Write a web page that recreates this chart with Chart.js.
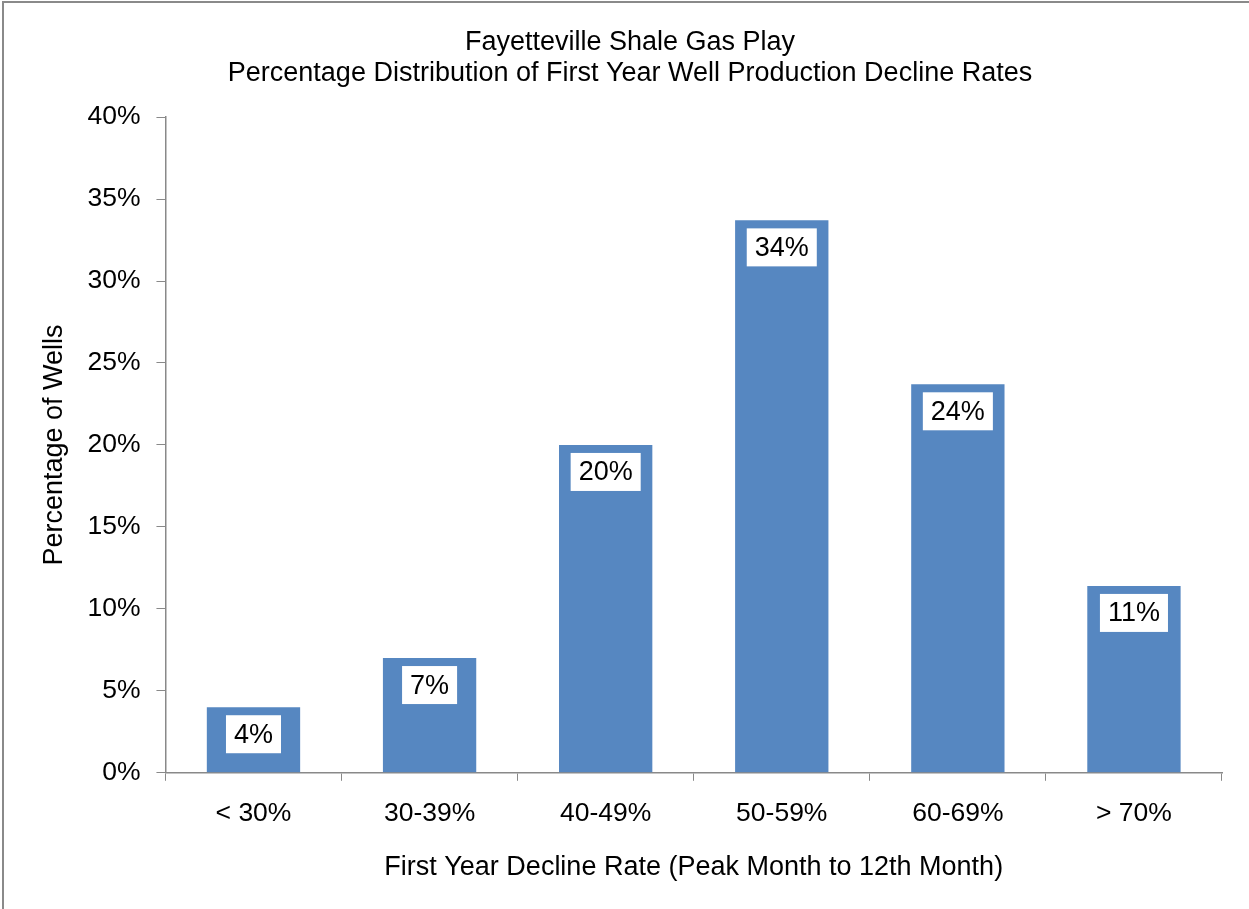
<!DOCTYPE html>
<html>
<head>
<meta charset="utf-8">
<script src="https://cdn.jsdelivr.net/npm/chart.js@4"></script>
<style>
  body { margin: 0; background: #fff; }
  #frame {
    position: absolute; left: 2px; top: 1px;
    width: 1247px; height: 908px;
    border-left: 2px solid #8a8a8a; border-top: 2px solid #8a8a8a;
  }
  #wrap { position: absolute; left: 0; top: 0; width: 1245px; height: 906px; }
</style>
</head>
<body>
<div id="frame"><div id="wrap"><canvas id="chart"></canvas></div></div>
<script>
const categories = ["< 30%", "30-39%", "40-49%", "50-59%", "60-69%", "> 70%"];
const wellShare = [4.0, 7.0, 20.0, 33.7, 23.7, 11.4];
const titleLines = [
    "Fayetteville Shale Gas Play",
    "Percentage Distribution of First Year Well Production Decline Rates"
];

const FONT = "'Liberation Sans', Arial, sans-serif";
const axisGray = "#898989";

// white boxed value labels just under each bar top
const boxLabels = {
    id: "boxLabels",
    afterDatasetsDraw(chart) {
        const ctx = chart.ctx;
        const meta = chart.getDatasetMeta(0);
        ctx.save();
        ctx.font = "27px " + FONT;
        ctx.textAlign = "center";
        ctx.textBaseline = "middle";
        meta.data.forEach(function (bar, i) {
            const text = Math.round(wellShare[i]) + "%";
            const w = ctx.measureText(text).width + 16;
            const h = 38;
            const top = bar.y + 8;
            ctx.fillStyle = "#ffffff";
            ctx.fillRect(bar.x - w / 2, top, w, h);
            ctx.fillStyle = "#000000";
            ctx.fillText(text, bar.x, top + h / 2 + 1);
        });
        ctx.restore();
    }
};

new Chart(document.getElementById("chart"), {
    type: "bar",
    data: {
        labels: categories,
        datasets: [{
            data: wellShare,
            backgroundColor: "#5687c1",
            borderWidth: 0,
            categoryPercentage: 1.0,
            barPercentage: 0.53
        }]
    },
    options: {
        responsive: true,
        maintainAspectRatio: false,
        animation: false,
        layout: { padding: { left: 34, right: 27, top: 0, bottom: 25 } },
        plugins: {
            legend: { display: false },
            tooltip: { enabled: false },
            title: {
                display: true,
                text: titleLines,
                color: "#000",
                font: { family: FONT, size: 27, weight: "normal", lineHeight: 1.15 },
                padding: { top: 24, bottom: 28 }
            }
        },
        scales: {
            x: {
                grid: { display: true, drawOnChartArea: false, drawTicks: true, tickLength: 8, color: axisGray, offset: true },
                border: { display: true, color: axisGray, width: 1.5 },
                ticks: { color: "#000", font: { family: FONT, size: 26.5 }, padding: 17 },
                title: {
                    display: true,
                    text: "First Year Decline Rate (Peak Month to 12th Month)",
                    color: "#000",
                    font: { family: FONT, size: 27 },
                    padding: { top: 5, bottom: 0 }
                }
            },
            y: {
                min: 0,
                max: 40,
                grid: { display: true, drawOnChartArea: false, drawTicks: true, tickLength: 9, color: axisGray },
                border: { display: true, color: axisGray, width: 1.5 },
                ticks: {
                    stepSize: 5,
                    color: "#000",
                    font: { family: FONT, size: 26.5 },
                    padding: 16,
                    callback: function (v) { return v + "%"; }
                },
                title: {
                    display: true,
                    text: "Percentage of Wells",
                    color: "#000",
                    font: { family: FONT, size: 27 },
                    padding: { top: 0, bottom: 1 }
                }
            }
        }
    },
    plugins: [boxLabels]
});
</script>
</body>
</html>
